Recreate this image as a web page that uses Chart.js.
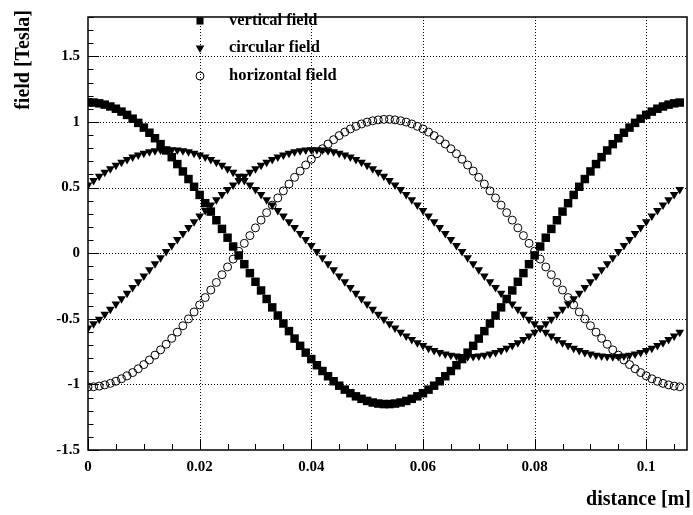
<!DOCTYPE html>
<html lang="en">
  <head>
    <meta charset="UTF-8" />
    <title>field vs distance</title>
    <script src="https://cdn.jsdelivr.net/npm/chart.js"></script>
    <style>
      body { margin: 0; background: #fff; }
      .wrap { width: 693px; height: 515px; position: relative; }
    </style>
  </head>
  <body>
    <div class="wrap">
      <canvas id="fieldChart"></canvas>
    </div>

    <script>
      // distance [m]
      var distance = [
        0, 0.001, 0.002, 0.003, 0.004, 0.005, 0.006, 0.007, 0.008, 0.009,
        0.01, 0.011, 0.012, 0.013, 0.014, 0.015, 0.016, 0.017, 0.018, 0.019,
        0.02, 0.021, 0.022, 0.023, 0.024, 0.025, 0.026, 0.027, 0.028, 0.029,
        0.03, 0.031, 0.032, 0.033, 0.034, 0.035, 0.036, 0.037, 0.038, 0.039,
        0.04, 0.041, 0.042, 0.043, 0.044, 0.045, 0.046, 0.047, 0.048, 0.049,
        0.05, 0.051, 0.052, 0.053, 0.054, 0.055, 0.056, 0.057, 0.058, 0.059,
        0.06, 0.061, 0.062, 0.063, 0.064, 0.065, 0.066, 0.067, 0.068, 0.069,
        0.07, 0.071, 0.072, 0.073, 0.074, 0.075, 0.076, 0.077, 0.078, 0.079,
        0.08, 0.081, 0.082, 0.083, 0.084, 0.085, 0.086, 0.087, 0.088, 0.089,
        0.09, 0.091, 0.092, 0.093, 0.094, 0.095, 0.096, 0.097, 0.098, 0.099,
        0.1, 0.101, 0.102, 0.103, 0.104, 0.105, 0.106
      ];

      var verticalField = [
        1.150, 1.148, 1.142, 1.132, 1.118, 1.101, 1.079, 1.054, 1.025, 0.993,
        0.957, 0.918, 0.876, 0.831, 0.783, 0.732, 0.679, 0.623, 0.565, 0.506,
        0.444, 0.381, 0.317, 0.251, 0.185, 0.118, 0.051, -0.017, -0.084, -0.152,
        -0.218, -0.284, -0.349, -0.413, -0.475, -0.536, -0.594, -0.651, -0.706, -0.758,
        -0.807, -0.854, -0.898, -0.938, -0.976, -1.010, -1.040, -1.067, -1.091, -1.110,
        -1.126, -1.138, -1.146, -1.150, -1.150, -1.146, -1.138, -1.126, -1.110, -1.091,
        -1.067, -1.040, -1.010, -0.976, -0.938, -0.898, -0.854, -0.807, -0.758, -0.706,
        -0.651, -0.594, -0.536, -0.475, -0.413, -0.349, -0.284, -0.218, -0.152, -0.084,
        -0.017, 0.051, 0.118, 0.185, 0.251, 0.317, 0.381, 0.444, 0.506, 0.565,
        0.623, 0.679, 0.732, 0.783, 0.831, 0.876, 0.918, 0.957, 0.993, 1.025,
        1.054, 1.079, 1.101, 1.118, 1.132, 1.142, 1.148
      ];

      // circular field, first branch (peak near 0.0145 m)
      var circularFieldA = [
        0.520, 0.554, 0.586, 0.616, 0.644, 0.670, 0.693, 0.714, 0.733, 0.749,
        0.762, 0.773, 0.781, 0.787, 0.789, 0.789, 0.787, 0.781, 0.773, 0.762,
        0.749, 0.733, 0.714, 0.693, 0.670, 0.644, 0.616, 0.586, 0.554, 0.520,
        0.485, 0.447, 0.408, 0.368, 0.326, 0.283, 0.240, 0.195, 0.150, 0.104,
        0.058, 0.012, -0.035, -0.081, -0.127, -0.173, -0.217, -0.262, -0.305, -0.347,
        -0.388, -0.428, -0.466, -0.503, -0.538, -0.571, -0.602, -0.631, -0.657, -0.682,
        -0.704, -0.724, -0.741, -0.756, -0.768, -0.777, -0.784, -0.788, -0.790, -0.788,
        -0.784, -0.777, -0.768, -0.756, -0.741, -0.724, -0.704, -0.682, -0.657, -0.631,
        -0.602, -0.571, -0.538, -0.503, -0.466, -0.428, -0.388, -0.347, -0.305, -0.262,
        -0.217, -0.173, -0.127, -0.081, -0.035, 0.012, 0.058, 0.104, 0.150, 0.195,
        0.240, 0.283, 0.326, 0.368, 0.408, 0.447, 0.485
      ];

      // circular field, second branch (peak near 0.0405 m)
      var circularFieldB = [
        -0.571, -0.538, -0.503, -0.466, -0.428, -0.388, -0.347, -0.305, -0.262, -0.217,
        -0.173, -0.127, -0.081, -0.035, 0.012, 0.058, 0.104, 0.150, 0.195, 0.240,
        0.283, 0.326, 0.368, 0.408, 0.447, 0.485, 0.520, 0.554, 0.586, 0.616,
        0.644, 0.670, 0.693, 0.714, 0.733, 0.749, 0.762, 0.773, 0.781, 0.787,
        0.789, 0.789, 0.787, 0.781, 0.773, 0.762, 0.749, 0.733, 0.714, 0.693,
        0.670, 0.644, 0.616, 0.586, 0.554, 0.520, 0.485, 0.447, 0.408, 0.368,
        0.326, 0.283, 0.240, 0.195, 0.150, 0.104, 0.058, 0.012, -0.035, -0.081,
        -0.127, -0.173, -0.217, -0.262, -0.305, -0.347, -0.388, -0.428, -0.466, -0.503,
        -0.538, -0.571, -0.602, -0.631, -0.657, -0.682, -0.704, -0.724, -0.741, -0.756,
        -0.768, -0.777, -0.784, -0.788, -0.790, -0.788, -0.784, -0.777, -0.768, -0.756,
        -0.741, -0.724, -0.704, -0.682, -0.657, -0.631, -0.602
      ];

      var horizontalField = [
        -1.020, -1.018, -1.013, -1.004, -0.992, -0.976, -0.957, -0.935, -0.910, -0.881,
        -0.849, -0.814, -0.777, -0.737, -0.694, -0.649, -0.602, -0.553, -0.501, -0.448,
        -0.394, -0.338, -0.281, -0.223, -0.164, -0.105, -0.045, 0.015, 0.075, 0.134,
        0.193, 0.252, 0.309, 0.366, 0.421, 0.475, 0.527, 0.578, 0.626, 0.672,
        0.716, 0.758, 0.796, 0.832, 0.865, 0.896, 0.923, 0.947, 0.967, 0.985,
        0.999, 1.009, 1.016, 1.020, 1.020, 1.016, 1.009, 0.999, 0.985, 0.967,
        0.947, 0.923, 0.896, 0.865, 0.832, 0.796, 0.758, 0.716, 0.672, 0.626,
        0.578, 0.527, 0.475, 0.421, 0.366, 0.309, 0.252, 0.193, 0.134, 0.075,
        0.015, -0.045, -0.105, -0.164, -0.223, -0.281, -0.338, -0.394, -0.448, -0.501,
        -0.553, -0.602, -0.649, -0.694, -0.737, -0.777, -0.814, -0.849, -0.881, -0.910,
        -0.935, -0.957, -0.976, -0.992, -1.004, -1.013, -1.018
      ];

      var xMajorLabels = [0, 0.02, 0.04, 0.06, 0.08, 0.1];
      var yMajorLabels = [-1.5, -1, -0.5, 0, 0.5, 1, 1.5];

      var FONT = "'Liberation Serif', 'Times New Roman', serif";

      function points(ys) {
        return distance.map(function (x, i) {
          return { x: x, y: ys[i] };
        });
      }

      function isMajor(v, list) {
        return list.some(function (m) {
          return Math.abs(m - v) < 1e-9;
        });
      }

      function fmt(v) {
        return String(parseFloat(v.toFixed(4)));
      }

      // grid, inner ticks, frame, titles and legend in ROOT style
      var rootFrame = {
        id: "rootFrame",
        beforeDatasetsDraw: function (chart) {
          var ctx = chart.ctx;
          var a = chart.chartArea;
          var xs = chart.scales.x;
          var ys = chart.scales.y;
          ctx.save();
          ctx.strokeStyle = "#000";
          ctx.lineWidth = 1;
          ctx.setLineDash([1, 2]);
          xMajorLabels.forEach(function (v) {
            var px = Math.round(xs.getPixelForValue(v)) + 0.5;
            if (v === 0) return;
            ctx.beginPath();
            ctx.moveTo(px, a.top);
            ctx.lineTo(px, a.bottom);
            ctx.stroke();
          });
          yMajorLabels.forEach(function (v) {
            var py = Math.round(ys.getPixelForValue(v)) + 0.5;
            if (v === -1.5) return;
            ctx.beginPath();
            ctx.moveTo(a.left, py);
            ctx.lineTo(a.right, py);
            ctx.stroke();
          });
          ctx.restore();
        },
        afterDraw: function (chart) {
          var ctx = chart.ctx;
          var a = chart.chartArea;
          var xs = chart.scales.x;
          var ys = chart.scales.y;
          ctx.save();
          ctx.strokeStyle = "#000";
          ctx.lineWidth = 1;

          // inner ticks on the x axis
          xs.ticks.forEach(function (t) {
            var px = Math.round(xs.getPixelForValue(t.value)) + 0.5;
            var len = isMajor(t.value, xMajorLabels) ? 11 : 6;
            ctx.beginPath();
            ctx.moveTo(px, a.bottom);
            ctx.lineTo(px, a.bottom - len);
            ctx.stroke();
          });
          // inner ticks on the y axis
          ys.ticks.forEach(function (t) {
            var py = Math.round(ys.getPixelForValue(t.value)) + 0.5;
            var len = isMajor(t.value, yMajorLabels) ? 11 : 5.5;
            ctx.beginPath();
            ctx.moveTo(a.left, py);
            ctx.lineTo(a.left + len, py);
            ctx.stroke();
          });

          // frame
          ctx.lineWidth = 1.5;
          ctx.strokeRect(a.left, a.top, a.right - a.left, a.bottom - a.top);

          // axis titles
          ctx.fillStyle = "#000";
          ctx.font = "bold 20px " + FONT;
          ctx.textAlign = "right";
          ctx.textBaseline = "alphabetic";
          ctx.fillText("distance [m]", 691, 505);

          ctx.translate(29, 10);
          ctx.rotate(-Math.PI / 2);
          ctx.textAlign = "right";
          ctx.fillText("field [Tesla]", 0, 0);
          ctx.restore();

          // legend
          var items = [
            { text: "vertical field", style: "rect", radius: 5, rotation: 0, fill: "#000", border: 0, y: 21 },
            { text: "circular field", style: "triangle", radius: 5, rotation: 180, fill: "#000", border: 0, y: 48 },
            { text: "horizontal field", style: "circle", radius: 4, rotation: 0, fill: "rgba(0,0,0,0)", border: 1, y: 76 },
          ];
          ctx.save();
          ctx.font = "bold 16.5px " + FONT;
          ctx.textAlign = "left";
          ctx.textBaseline = "middle";
          items.forEach(function (it) {
            ctx.fillStyle = it.fill;
            ctx.strokeStyle = "#000";
            ctx.lineWidth = it.border;
            Chart.helpers.drawPoint(
              ctx,
              { pointStyle: it.style, radius: it.radius, rotation: it.rotation, borderWidth: it.border },
              200,
              it.y
            );
            ctx.fillStyle = "#000";
            ctx.fillText(it.text, 229, it.y);
          });
          ctx.restore();
        },
      };

      var ctx = document.getElementById("fieldChart").getContext("2d");
      var fieldChart = new Chart(ctx, {
        type: "scatter",
        data: {
          datasets: [
            {
              label: "vertical field",
              data: points(verticalField),
              pointStyle: "rect",
              pointRadius: 6,
              backgroundColor: "#000",
              borderWidth: 0,
            },
            {
              label: "circular field",
              data: points(circularFieldA),
              pointStyle: "triangle",
              pointRotation: 180,
              pointRadius: 5,
              backgroundColor: "#000",
              borderWidth: 0,
            },
            {
              label: "circular field",
              data: points(circularFieldB),
              pointStyle: "triangle",
              pointRotation: 180,
              pointRadius: 5,
              backgroundColor: "#000",
              borderWidth: 0,
            },
            {
              label: "horizontal field",
              data: points(horizontalField),
              pointStyle: "circle",
              pointRadius: 4,
              backgroundColor: "rgba(0,0,0,0)",
              borderColor: "#000",
              borderWidth: 1,
            },
          ],
        },
        options: {
          responsive: true,
          maintainAspectRatio: false,
          animation: false,
          layout: { padding: { top: 9, right: 2, left: 0, bottom: 0 } },
          plugins: {
            legend: { display: false },
            tooltip: { enabled: false },
          },
          scales: {
            x: {
              type: "linear",
              min: 0,
              max: 0.1073,
              grid: { display: false, drawTicks: false },
              border: { display: false },
              afterFit: function (scale) {
                scale.height = 65;
              },
              ticks: {
                stepSize: 0.005,
                includeBounds: false,
                autoSkip: false,
                maxRotation: 0,
                padding: 8,
                color: "#000",
                font: { family: FONT, size: 15, weight: "bold" },
                callback: function (v) {
                  return isMajor(v, xMajorLabels) ? fmt(v) : "";
                },
              },
            },
            y: {
              type: "linear",
              min: -1.5,
              max: 1.8,
              grid: { display: false, drawTicks: false },
              border: { display: false },
              afterFit: function (scale) {
                scale.width = 88;
              },
              ticks: {
                stepSize: 0.1,
                includeBounds: false,
                autoSkip: false,
                padding: 8,
                color: "#000",
                font: { family: FONT, size: 15, weight: "bold" },
                callback: function (v) {
                  return isMajor(v, yMajorLabels) ? fmt(v) : "";
                },
              },
            },
          },
        },
        plugins: [rootFrame],
      });
    </script>
  </body>
</html>
